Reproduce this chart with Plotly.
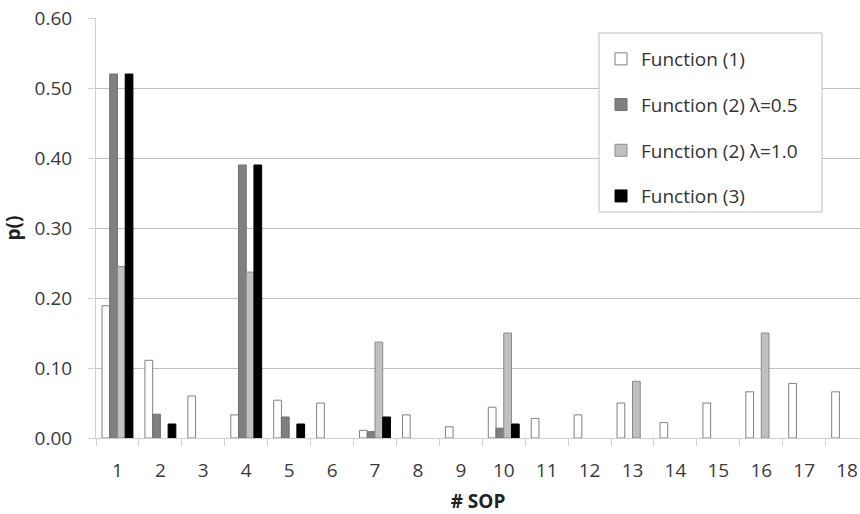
import plotly.graph_objects as go

sop = [str(i) for i in range(1, 19)]

# None marks SOPs where a function has no bar
func1 = [0.189, 0.111, 0.060, 0.033, 0.054, 0.050, 0.011, 0.033, 0.016,
         0.044, 0.028, 0.033, 0.050, 0.022, 0.050, 0.066, 0.078, 0.066]
func2_l05 = [0.52, 0.034, None, 0.39, 0.030, None, 0.009, None, None,
             0.014, None, None, None, None, None, None, None, None]
func2_l10 = [0.245, None, None, 0.237, None, None, 0.137, None, None,
             0.150, None, None, 0.081, None, None, 0.150, None, None]
func3 = [0.52, 0.020, None, 0.39, 0.020, None, 0.030, None, None,
         0.020, None, None, None, None, None, None, None, None]

series = [
    ("Function (1)", func1, "#ffffff", "#808080"),
    ("Function (2) λ=0.5", func2_l05, "#808080", "#6f6f6f"),
    ("Function (2) λ=1.0", func2_l10, "#c0c0c0", "#8a8a8a"),
    ("Function (3)", func3, "#000000", "#000000"),
]

fig = go.Figure()
for i, (name, vals, fill, line) in enumerate(series):
    fig.add_trace(go.Bar(
        x=sop, y=vals, name=name, legendgroup=str(i),
        marker=dict(color=fill, line=dict(color=line, width=1)),
    ))

# pixel geometry of the plot area, used to place the legend and its frame
W, H = 860, 514
L, R, T, B = 96, 0, 18, 76
pw, ph = W - L - R, H - T - B


def px_x(x):
    return (x - L) / pw


def px_y(y):
    return (H - B - y) / ph


# legend frame
fig.add_shape(type="rect", xref="paper", yref="paper",
              x0=px_x(599), x1=px_x(822), y0=px_y(212), y1=px_y(33),
              line=dict(color="#bfbfbf", width=1), fillcolor="white",
              layer="above")

font = "'Open Sans', sans-serif"
fig.update_layout(
    width=W, height=H,
    margin=dict(l=L, r=R, t=T, b=B),
    paper_bgcolor="white", plot_bgcolor="white",
    barmode="group", bargap=0.28, bargroupgap=0,
    font=dict(family=font, size=19, color="#3a3a3a"),
    legend=dict(
        x=px_x(601), y=px_y(40), xanchor="left", yanchor="top",
        bgcolor="rgba(0,0,0,0)", borderwidth=0,
        font=dict(size=19, color="#333333"),
        tracegroupgap=18, traceorder="grouped",
    ),
    xaxis=dict(
        title=dict(text="<b># SOP</b>", font=dict(size=19, color="#222"), standoff=14),
        # the last category runs a little past the right edge
        range=[-0.5, 17.3],
        showline=True, linecolor="#d0d0d0", linewidth=1,
        ticks="outside", ticklen=7, tickcolor="#d0d0d0",
        tickson="boundaries", showgrid=False,
        ticklabelstandoff=15, automargin=False,
    ),
    yaxis=dict(
        title=dict(text="<b>p()</b>", font=dict(size=19, color="#222"), standoff=9),
        range=[0, 0.6], dtick=0.1, tickformat=".2f",
        showline=True, linecolor="#d0d0d0", linewidth=1,
        ticks="outside", ticklen=7, tickcolor="#d0d0d0",
        showgrid=True, gridcolor="#c0c0c0", gridwidth=1,
        zeroline=False, ticklabelstandoff=12, automargin=False,
    ),
)

fig.write_html("out.html")
